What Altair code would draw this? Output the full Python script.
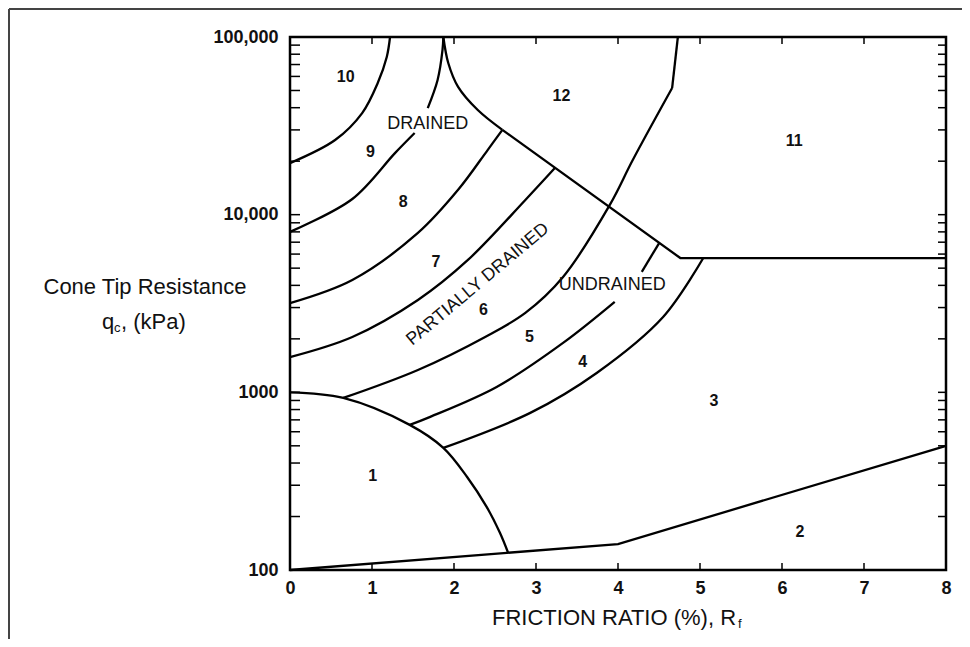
import altair as alt
import pandas as pd

# ---------------- data (friction ratio %, cone tip resistance kPa) ----------------
zone1_x = [0.0, 0.65, 1.46, 1.87, 2.16, 2.40, 2.56, 2.66]
zone1_y = [1000, 930, 656, 487, 334, 226, 162, 125]

b10_9_x = [0.0, 0.55, 0.88, 1.07, 1.18, 1.22]
b10_9_y = [19500, 26300, 37300, 55100, 77200, 100000]

b9_8_low_x = [0.0, 0.76, 1.28, 1.52]
b9_8_low_y = [8000, 12250, 22200, 28800]

b9_8_up_x = [1.68, 1.80, 1.86, 1.87]
b9_8_up_y = [39800, 57300, 84500, 100000]

cusp_x = [1.87, 1.93, 2.05, 2.29, 2.59]
cusp_y = [100000, 71400, 52400, 38800, 30000]

b8_7_x = [0.0, 0.76, 1.56, 2.05, 2.41, 2.59]
b8_7_y = [3180, 4290, 7890, 13800, 23100, 30000]

b7_6_x = [0.0, 0.76, 1.56, 2.17, 2.87, 3.23]
b7_6_y = [1580, 2050, 3310, 5560, 12100, 18300]

b6_5_x = [0.65, 1.56, 2.38, 2.87, 3.33, 3.90, 4.18, 4.66]
b6_5_y = [930, 1336, 2050, 2800, 4460, 11350, 20300, 51600]
b6_5_top_x = [4.66, 4.73]
b6_5_top_y = [51600, 100000]

b5_4_x = [1.46, 1.71, 2.52, 3.33, 3.96]
b5_4_y = [656, 728, 1072, 1897, 3230]
b5_4_up_x = [4.29, 4.50]
b5_4_up_y = [4770, 6900]

b4_3_x = [1.87, 2.93, 3.74, 4.55, 5.04]
b4_3_y = [487, 766, 1285, 2655, 5700]

diag_x = [2.59, 4.76, 8.0]
diag_y = [30000, 5700, 5700]

base_x = [0.0, 4.0, 8.0]
base_y = [100, 140, 500]

zone_labels = ["1", "2", "3", "4", "5", "6", "7", "8", "9", "10", "11", "12"]
zone_label_x = [1.01, 6.22, 5.17, 3.57, 2.92, 2.36, 1.78, 1.38, 0.98, 0.68, 6.15, 3.31]
zone_label_y = [340, 163, 890, 1490, 2040, 2910, 5380, 11800, 22500, 59500, 26000, 46800]

phase_labels = ["DRAINED", "UNDRAINED"]
phase_x = [1.68, 3.93]
phase_y = [32300, 4020]

partial_label = ["PARTIALLY DRAINED"]
partial_x = [2.29]
partial_y = [4050]

x_tick_values = [0, 1, 2, 3, 4, 5, 6, 7, 8]
x_inner_ticks = [1, 2, 3, 4, 5, 6, 7]
y_tick_values = [100, 1000, 10000, 100000]
y_tick_text = ["100", "1000", "10,000", "100,000"]
y_inner_ticks = [200, 300, 400, 500, 600, 700, 800, 900, 1000,
                 2000, 3000, 4000, 5000, 6000, 7000, 8000, 9000, 10000,
                 20000, 30000, 40000, 50000, 60000, 70000, 80000, 90000]

# ---------------- build ----------------
FONT = "Liberation Sans"
W, H = 656, 533

smooth_curves = [
    ("z1", zone1_x, zone1_y), ("b10_9", b10_9_x, b10_9_y),
    ("b9_8a", b9_8_low_x, b9_8_low_y), ("b9_8b", b9_8_up_x, b9_8_up_y),
    ("cusp", cusp_x, cusp_y), ("b8_7", b8_7_x, b8_7_y),
    ("b7_6", b7_6_x, b7_6_y), ("b6_5", b6_5_x, b6_5_y),
    ("b5_4", b5_4_x, b5_4_y), ("b4_3", b4_3_x, b4_3_y),
]
straight_curves = [
    ("b6_5top", b6_5_top_x, b6_5_top_y), ("b5_4up", b5_4_up_x, b5_4_up_y),
    ("diag", diag_x, diag_y), ("base", base_x, base_y),
]


def to_df(curves):
    rows = []
    for name, xs, ys in curves:
        for i, (a, b) in enumerate(zip(xs, ys)):
            rows.append({"seg": name, "i": i, "x": a, "y": b})
    return pd.DataFrame(rows)


xscale = alt.Scale(domain=[0, 8], nice=False, zero=False)
yscale = alt.Scale(type="log", domain=[100, 100000], nice=False)

label_expr = " : ".join(
    f"datum.value == {v} ? '{t}'" for v, t in zip(y_tick_values, y_tick_text)
) + " : ''"

xaxis = alt.Axis(values=x_tick_values, format="d", labelFont=FONT, labelFontSize=18,
                 labelFontWeight="bold", labelColor="#111", labelPadding=9,
                 ticks=False, domain=False, grid=False, title=None,
                 labelFlush=False, labelOverlap=False)
yaxis = alt.Axis(values=y_tick_values, labelExpr=label_expr, labelFont=FONT,
                 labelFontSize=18, labelFontWeight="bold", labelColor="#111",
                 labelPadding=12, ticks=False, domain=False, grid=False,
                 title=None, labelFlush=False, labelOverlap=False)

X = alt.X("x:Q", scale=xscale, axis=xaxis)
Y = alt.Y("y:Q", scale=yscale, axis=yaxis)

smooth = alt.Chart(to_df(smooth_curves)).mark_line(
    interpolate="catmull-rom", color="black", strokeWidth=2.3
).encode(x=X, y=Y, detail="seg:N", order="i:Q")

straight = alt.Chart(to_df(straight_curves)).mark_line(
    color="black", strokeWidth=2.3
).encode(x=X, y=Y, detail="seg:N", order="i:Q")

zones = alt.Chart(pd.DataFrame({"x": zone_label_x, "y": zone_label_y, "t": zone_labels})).mark_text(
    font=FONT, fontSize=16, fontWeight="bold", color="#111"
).encode(x=X, y=Y, text="t:N")

phases = alt.Chart(pd.DataFrame({"x": phase_x, "y": phase_y, "t": phase_labels})).mark_text(
    font=FONT, fontSize=18, color="#111"
).encode(x=X, y=Y, text="t:N")

partial = alt.Chart(pd.DataFrame({"x": partial_x, "y": partial_y, "t": partial_label})).mark_text(
    font=FONT, fontSize=18, color="#111", angle=320
).encode(x=X, y=Y, text="t:N")

# inward ticks
ydf = pd.DataFrame({"y": y_inner_ticks})
xdf = pd.DataFrame({"x": x_inner_ticks})
lt = alt.Chart(ydf).mark_rule(color="black", strokeWidth=1.5).encode(
    y=Y, x=alt.value(0), x2=alt.value(10))
rt = alt.Chart(ydf).mark_rule(color="black", strokeWidth=1.5).encode(
    y=Y, x=alt.value(W - 8), x2=alt.value(W))
bt = alt.Chart(xdf).mark_rule(color="black", strokeWidth=1.5).encode(
    x=X, y=alt.value(H - 7), y2=alt.value(H))
tt = alt.Chart(xdf).mark_rule(color="black", strokeWidth=1.5).encode(
    x=X, y=alt.value(0), y2=alt.value(7))


def txt(s, x, y, size=22, align="left", weight="normal"):
    return alt.Chart(pd.DataFrame({"t": [s]})).mark_text(
        font=FONT, fontSize=size, align=align, baseline="middle",
        fontWeight=weight, color="#111"
    ).encode(text="t:N", x=alt.value(x), y=alt.value(y))


titles = [
    txt("Cone Tip Resistance", -145, 250, align="center"),
    txt("q", -188, 285),
    txt("c", -176, 291, size=13),
    txt(", (kPa)", -169, 285),
    txt("FRICTION RATIO (%), R", 202, 581),
    txt("f", 448, 587, size=13),
]

frame_df = pd.DataFrame({"k": [0]})
frame_left = alt.Chart(frame_df).mark_rule(color="#444", strokeWidth=2).encode(
    x=alt.value(-281), y=alt.value(-28), y2=alt.value(H + 69))
frame_top = alt.Chart(frame_df).mark_rule(color="#444", strokeWidth=2).encode(
    x=alt.value(-281), x2=alt.value(W + 16), y=alt.value(-28))

chart = alt.layer(
    smooth, straight, zones, phases, partial, lt, rt, bt, tt,
    *titles, frame_left, frame_top
).properties(
    width=W, height=H,
    padding={"left": 282, "top": 29, "right": 16, "bottom": 69},
    autosize=alt.AutoSizeParams(type="none"),
    background="white",
).configure_view(stroke="black", strokeWidth=2.5)

chart.save("out.html", embed_options={"renderer": "svg", "actions": False})
